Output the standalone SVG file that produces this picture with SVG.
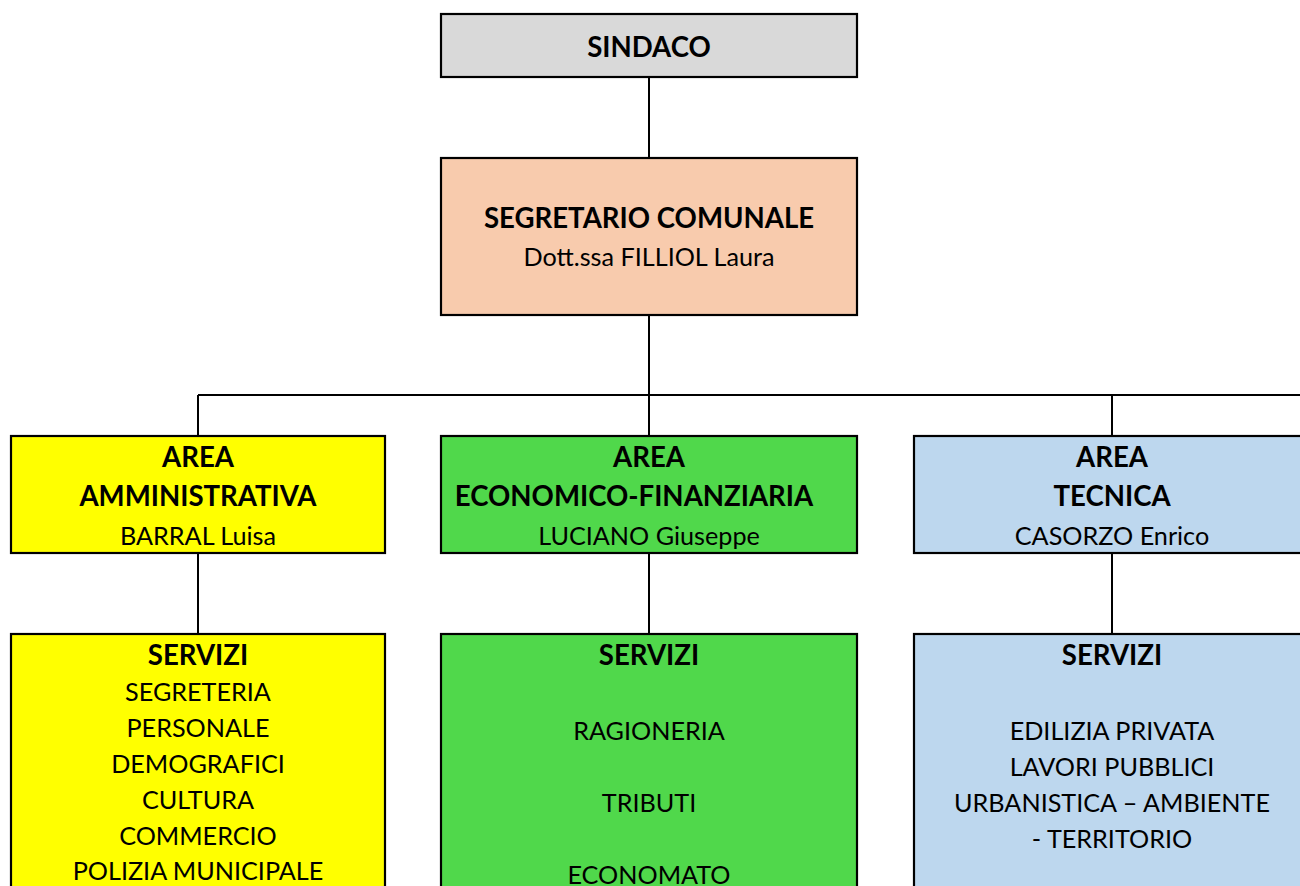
<svg xmlns="http://www.w3.org/2000/svg" width="1300" height="886" viewBox="0 0 1300 886">
<style>
.box{stroke:#000;stroke-width:2.2}
.c{fill:none;stroke:#000;stroke-width:2}
text{font-family:Lato,"Open Sans","Liberation Sans",sans-serif;font-size:25.2px;fill:#000;text-anchor:middle}
.b{font-weight:bold;font-size:27.6px}
</style>
<rect width="1300" height="886" fill="#fff"/>
<g id="connectors">
<path class="c" d="M649 77V158M649 315V395M198 395H1302M198 395V436M649 395V436M1112 395V436M198 553V634M649 553V634M1112 553V634"/>
</g>
<g id="sindaco">
<rect class="box" x="441" y="14" width="416" height="63" fill="#D9D9D9"/>
<text class="b" x="649" y="56.5">SINDACO</text>
</g>
<g id="segretario">
<rect class="box" x="441" y="158" width="416" height="157" fill="#F8CBAD"/>
<text class="b" x="649" y="228">SEGRETARIO COMUNALE</text>
<text x="649" y="266">Dott.ssa FILLIOL Laura</text>
</g>
<g id="area-amministrativa">
<rect class="box" x="11" y="436" width="374" height="117" fill="#FFFF00"/>
<text class="b" x="198" y="467">AREA</text>
<text class="b" x="198" y="506">AMMINISTRATIVA</text>
<text x="198" y="545">BARRAL Luisa</text>
</g>
<g id="area-economico">
<rect class="box" x="441" y="436" width="416" height="117" fill="#50D84B"/>
<text class="b" x="649" y="467">AREA</text>
<text class="b" x="634" y="506">ECONOMICO-FINANZIARIA</text>
<text x="649" y="545">LUCIANO Giuseppe</text>
</g>
<g id="area-tecnica">
<rect class="box" x="914" y="436" width="400" height="117" fill="#BDD7EE"/>
<text class="b" x="1112" y="467">AREA</text>
<text class="b" x="1112" y="506">TECNICA</text>
<text x="1112" y="545">CASORZO Enrico</text>
</g>
<g id="servizi-amministrativa">
<rect class="box" x="11" y="634" width="374" height="270" fill="#FFFF00"/>
<text class="b" x="198" y="665">SERVIZI</text>
<text x="198" y="701">SEGRETERIA</text>
<text x="198" y="737">PERSONALE</text>
<text x="198" y="773">DEMOGRAFICI</text>
<text x="198" y="809">CULTURA</text>
<text x="198" y="845">COMMERCIO</text>
<text x="198" y="880">POLIZIA MUNICIPALE</text>
</g>
<g id="servizi-economico">
<rect class="box" x="441" y="634" width="416" height="270" fill="#50D84B"/>
<text class="b" x="649" y="665">SERVIZI</text>
<text x="649" y="740">RAGIONERIA</text>
<text x="649" y="812">TRIBUTI</text>
<text x="649" y="884">ECONOMATO</text>
</g>
<g id="servizi-tecnica">
<rect class="box" x="914" y="634" width="400" height="270" fill="#BDD7EE"/>
<text class="b" x="1112" y="665">SERVIZI</text>
<text x="1112" y="740">EDILIZIA PRIVATA</text>
<text x="1112" y="776">LAVORI PUBBLICI</text>
<text x="1112" y="812">URBANISTICA – AMBIENTE</text>
<text x="1112" y="848">- TERRITORIO</text>
</g>
</svg>
